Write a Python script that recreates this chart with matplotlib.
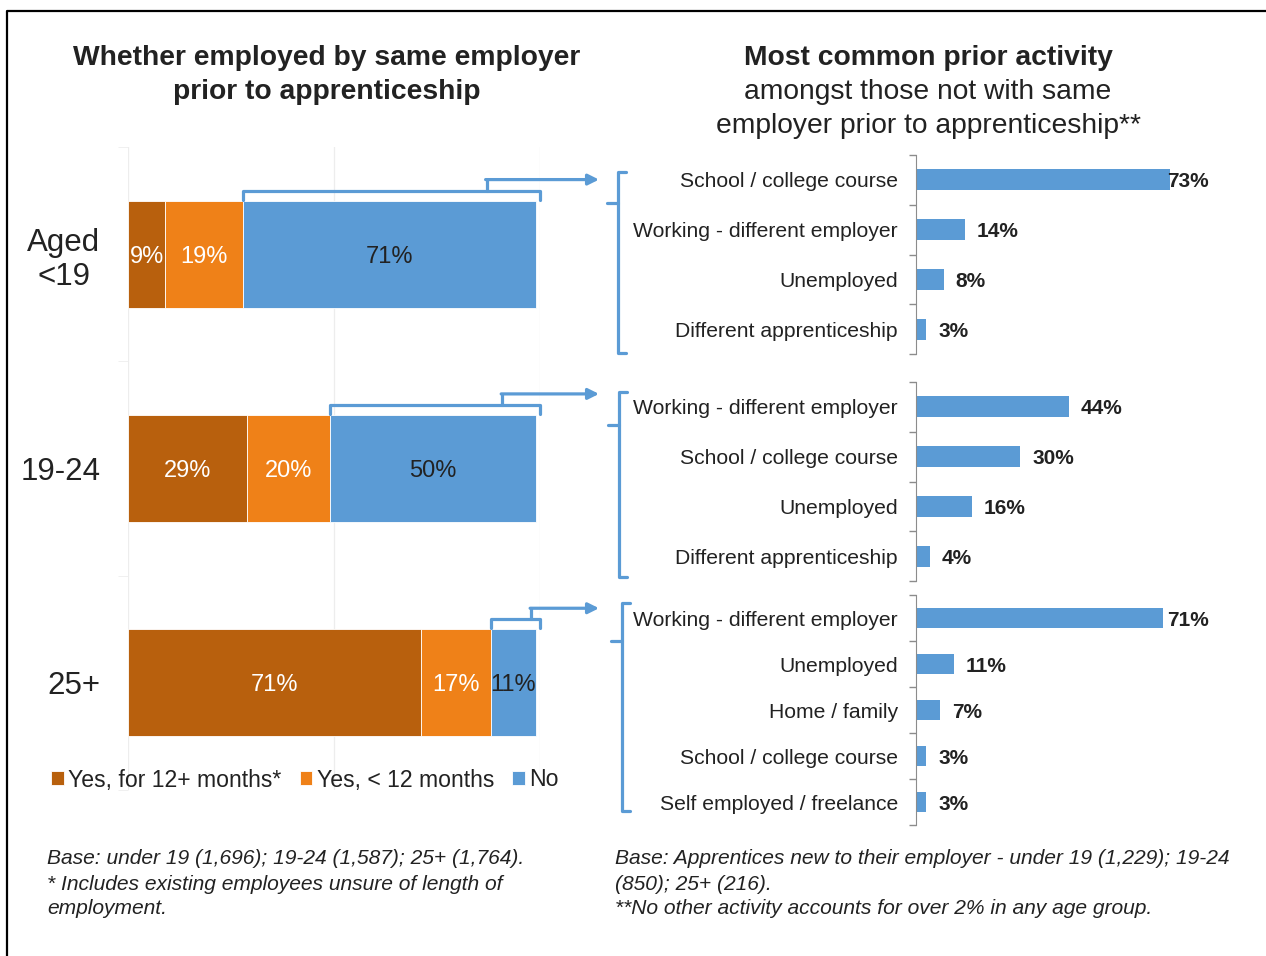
import matplotlib
matplotlib.use('Agg')
import matplotlib.pyplot as plt
import numpy as np

plt.rcParams['font.family'] = ['Liberation Sans', 'DejaVu Sans']

# employment with same employer before apprenticeship, by age group (%)
ages = ['Aged\n<19', '19-24', '25+']
yes_long = [9, 29, 71]
yes_short = [19, 20, 17]
no_prior = [71, 50, 11]
legend_labels = ['Yes, for 12+ months*', 'Yes, < 12 months', 'No']

# most common prior activity among those new to their employer (%)
u19_acts = ['School / college course', 'Working - different employer',
            'Unemployed', 'Different apprenticeship']
u19_vals = [73, 14, 8, 3]
mid_acts = ['Working - different employer', 'School / college course',
            'Unemployed', 'Different apprenticeship']
mid_vals = [44, 30, 16, 4]
old_acts = ['Working - different employer', 'Unemployed', 'Home / family',
            'School / college course', 'Self employed / freelance']
old_vals = [71, 11, 7, 3, 3]

DARK = '#B8600D'
ORANGE = '#EF8118'
BLUE = '#5B9BD5'
TEXT = '#222222'

W, H = 1266, 956
fig = plt.figure(figsize=(W / 100, H / 100), dpi=100)


def frac(left, top, right, bottom):
    return [left / W, 1 - bottom / H, (right - left) / W, (bottom - top) / H]


# overlay in pixel units for titles, notes and connectors
ov = fig.add_axes([0, 0, 1, 1], zorder=5)
ov.set_xlim(0, W)
ov.set_ylim(H, 0)
ov.axis('off')
ov.patch.set_alpha(0)

# ---- left: stacked bars ----
ax = fig.add_axes(frac(128, 147, 540, 790))
y = np.arange(len(ages))
left = np.zeros(len(ages))
series = [(yes_long, DARK, 'white'), (yes_short, ORANGE, 'white'), (no_prior, BLUE, TEXT)]
handles = []
for (vals, col, tcol), lab in zip(series, legend_labels):
    vals = np.array(vals, dtype=float)
    b = ax.barh(y, vals, left=left, height=0.5, color=col, edgecolor='white',
                linewidth=0.6, label=lab)
    handles.append(b)
    for yi, l, v in zip(y, left, vals):
        ax.text(l + v / 2, yi, f'{int(v)}%', ha='center', va='center_baseline',
                fontsize=17, color=tcol)
    left = left + vals
no_start = left - np.array(no_prior)

ax.set_xlim(0, 100)
ax.set_ylim(2.5, -0.5)
ax.set_xticks([0, 50, 100])
ax.set_xticklabels([])
ax.tick_params(axis='x', length=0)
ax.grid(axis='x', color='#EDEDED', linewidth=0.9)
ax.set_axisbelow(True)
ax.set_yticks(y)
ax.set_yticklabels(ages, fontsize=22.5, color=TEXT)
for t in ax.get_yticklabels():
    t.set_multialignment('center')
ax.tick_params(axis='y', length=0, pad=20)
ax.set_yticks([-0.5, 0.5, 1.5, 2.5], minor=True)
ax.tick_params(axis='y', which='minor', length=7, color='#EEEEEE')
for s in ax.spines.values():
    s.set_visible(False)

fig.legend(handles=handles, labels=legend_labels, loc='center',
           bbox_to_anchor=(305 / W, 1 - 780 / H), ncol=3, frameon=False,
           fontsize=16.6, handlelength=0.55, handleheight=0.55,
           handletextpad=0.2, columnspacing=0.78, labelcolor=TEXT)


# ---- right: three small bar panels ----
def activity_panel(rect, acts, vals):
    a = fig.add_axes(rect)
    pos = np.arange(len(acts))
    a.barh(pos, vals, height=0.42, color=BLUE)
    xmax = 84
    a.set_xlim(0, xmax)
    a.set_ylim(len(acts) - 0.5, -0.5)
    a.set_yticks(pos)
    a.set_yticklabels(acts, fontsize=15.2, color=TEXT)
    a.tick_params(axis='y', length=0, pad=13)
    a.set_yticks(np.arange(len(acts) + 1) - 0.5, minor=True)
    a.tick_params(axis='y', which='minor', length=5, color='#8C8C8C', width=1)
    a.set_xticks([])
    for k in ['top', 'right', 'bottom']:
        a.spines[k].set_visible(False)
    a.spines['left'].set_color('#8C8C8C')
    for p, v in zip(pos, vals):
        if v + 3.4 + 12 > xmax:
            a.text(xmax + 0.3, p, f'{v}%', ha='right', va='center_baseline',
                   fontsize=15, fontweight='bold', color=TEXT)
        else:
            a.text(v + 3.4, p, f'{v}%', ha='left', va='center_baseline',
                   fontsize=15, fontweight='bold', color=TEXT)
    return a


activity_panel(frac(916, 155, 1208, 354), u19_acts, u19_vals)
activity_panel(frac(916, 382, 1208, 581), mid_acts, mid_vals)
activity_panel(frac(916, 595, 1208, 825), old_acts, old_vals)


# ---- connectors ----
def to_ov(a, x, yv):
    return ov.transData.inverted().transform(a.transData.transform((x, yv)))


line_kw = dict(color=BLUE, linewidth=2.3, solid_capstyle='round',
               solid_joinstyle='round')
for i in range(len(ages)):
    x0, yb = to_ov(ax, no_start[i], i - 0.25)
    x1, _ = to_ov(ax, 100, i - 0.25)
    yh = yb - 10
    xp = x0 + 0.82 * (x1 - x0)
    yp = yh - 11
    ov.plot([x0, x0, x1, x1], [yb - 1, yh, yh, yb - 1], **line_kw)
    ov.plot([xp, xp], [yh, yp], **line_kw)
    ov.annotate('', xy=(599, yp), xytext=(xp - 1, yp),
                arrowprops=dict(arrowstyle='-|>', color=BLUE, lw=2.3,
                                mutation_scale=16, shrinkA=0, shrinkB=0))

for bx, top, bot, mid in [(618, 172, 353, 203), (619, 392, 577, 425),
                          (622, 603, 811, 641)]:
    ov.plot([bx + 8, bx, bx, bx + 8], [top, top, bot, bot], **line_kw)
    ov.plot([bx - 11, bx], [mid, mid], **line_kw)

# ---- titles and notes ----
ov.text(327, 58, 'Whether employed by same employer', ha='center', va='center',
        fontsize=20.3, fontweight='bold', color=TEXT)
ov.text(327, 92, 'prior to apprenticeship', ha='center', va='center',
        fontsize=20.3, fontweight='bold', color=TEXT)
ov.text(928, 58, 'Most common prior activity', ha='center', va='center',
        fontsize=20.3, fontweight='bold', color=TEXT)
ov.text(928, 92, 'amongst those not with same', ha='center', va='center',
        fontsize=20.3, color=TEXT)
ov.text(928, 126, 'employer prior to apprenticeship**', ha='center',
        va='center', fontsize=20.3, color=TEXT)

notes_left = ['Base: under 19 (1,696); 19-24 (1,587); 25+ (1,764).',
              '* Includes existing employees unsure of length of',
              'employment.']
notes_right = ['Base: Apprentices new to their employer - under 19 (1,229); 19-24',
               '(850); 25+ (216).',
               '**No other activity accounts for over 2% in any age group.']
for k, (nl, nr) in enumerate(zip(notes_left, notes_right)):
    yy = 859 + 25 * k
    ov.text(47, yy, nl, ha='left', va='center', fontsize=15.1, style='italic',
            color=TEXT)
    ov.text(615, yy, nr, ha='left', va='center', fontsize=15.1, style='italic',
            color=TEXT)

# outer frame
ov.plot([7, 7, W + 5], [H + 5, 11, 11], color='black', linewidth=1.6)

fig.savefig('out.png', dpi=100)
